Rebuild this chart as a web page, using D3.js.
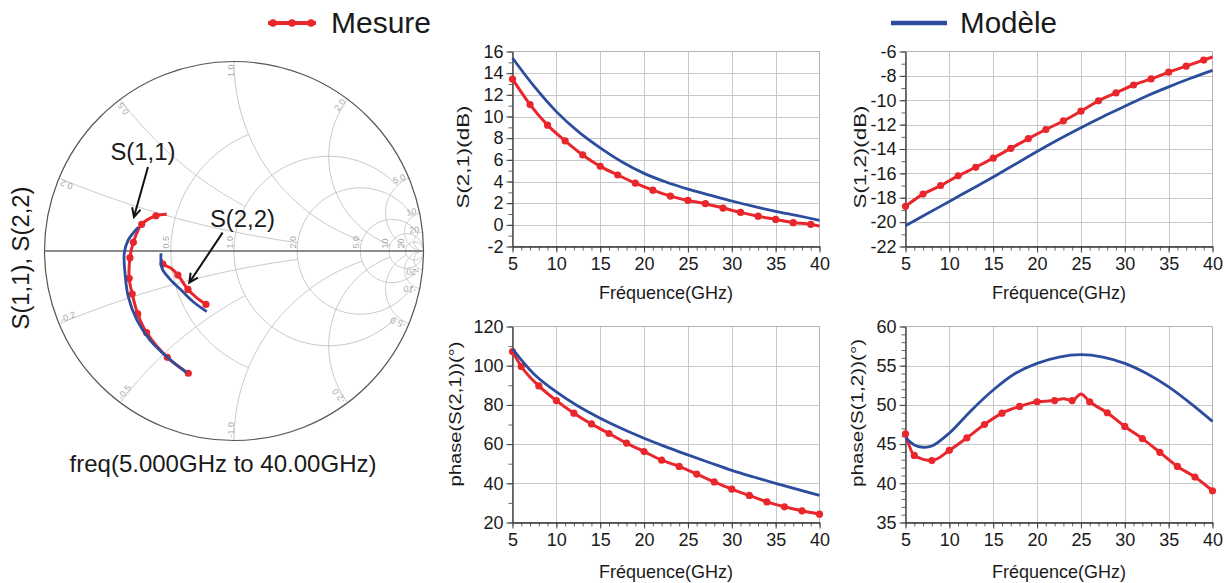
<!DOCTYPE html>
<html><head><meta charset="utf-8">
<script src="https://cdn.jsdelivr.net/npm/d3@7"></script>
<style>
body{margin:0;background:#fff}
svg{display:block}
text{font-family:"Liberation Sans",Arial,Helvetica,sans-serif}
</style>
</head><body>
<svg id="c" width="1232" height="583"></svg>
<script>
// ---------------- DATA ----------------
const xTickVals = [5,10,15,20,25,30,35,40];
const xTickLabels = ["5","10","15","20","25","30","35","40"];

const freqMeasOdd = [5,7,9,11,13,15,17,19,21,23,25,27,29,31,33,35,37,39,40];
const freqMeasEven = [5,6,8,10,12,14,16,18,20,22,24,26,28,30,32,34,36,38,40];
const freqModel = [5,7.5,10,12.5,15,17.5,20,22.5,25,27.5,30,32.5,35,37.5,40];

const s21dBMeas  = [13.45,11.1,9.2,7.75,6.45,5.4,4.6,3.85,3.2,2.65,2.25,1.95,1.55,1.15,0.8,0.5,0.2,0.05,-0.12];
const s21dBModel = [15.4,12.75,10.45,8.6,7.1,5.8,4.75,3.95,3.3,2.75,2.2,1.7,1.25,0.85,0.42];

const s12dBMeas  = [-18.7,-17.7,-17.0,-16.2,-15.5,-14.75,-13.95,-13.15,-12.4,-11.7,-10.9,-10.05,-9.4,-8.75,-8.25,-7.7,-7.2,-6.7,-6.45];
const s12dBModel = [-20.3,-19.3,-18.3,-17.3,-16.3,-15.25,-14.2,-13.2,-12.25,-11.35,-10.5,-9.65,-8.9,-8.2,-7.55];

const phS21Meas  = [107.2,99.6,89.7,82.2,75.8,70.3,65.4,60.5,56.2,51.8,48.6,44.7,40.7,37.0,33.8,30.5,28.0,25.95,24.25];
const phS21Model = [108.6,95.5,86.6,79.3,73.2,67.8,63.0,58.6,54.5,50.5,46.6,43.2,40.0,36.9,33.8];

const freqPhS12Meas = [5,6,8,10,12,14,16,18,20,22,23,24,25,26,28,30,32,34,36,38,40];
const phS12Meas  = [46.3,43.55,42.9,44.2,45.8,47.5,48.95,49.8,50.4,50.55,50.8,50.55,51.4,50.4,49.0,47.25,45.7,43.95,42.15,40.8,39.05];
const freqPhS12Model = [5,6,7,8,10,12.5,15,17.5,20,22.5,25,27.5,30,32.5,35,37.5,40];
const phS12Model = [45.8,44.9,44.6,44.75,46.4,49.3,51.9,54.0,55.3,56.1,56.4,56.1,55.3,54.0,52.3,50.2,47.9];

const yTicksA = [-2,0,2,4,6,8,10,12,14,16];
const yTicksB = [-22,-20,-18,-16,-14,-12,-10,-8,-6];
const yTicksC = [20,40,60,80,100,120];
const yTicksD = [35,40,45,50,55,60];

// Smith chart traces (reflection coefficient, [re, im])
const s11Meas  = [[-0.355,0.194],[-0.412,0.186],[-0.487,0.141],[-0.531,0.046],[-0.549,-0.035],[-0.553,-0.144],[-0.537,-0.227],[-0.508,-0.332],[-0.461,-0.431],[-0.352,-0.561],[-0.241,-0.645]];
const s11MarkIdx = [1,2,3,4,5,6,7,8,9,10];
const s11Model = [[-0.505,0.125],[-0.558,0.058],[-0.579,-0.012],[-0.575,-0.118],[-0.558,-0.241],[-0.513,-0.364],[-0.443,-0.470],[-0.355,-0.558],[-0.250,-0.642]];
const s22Meas  = [[-0.383,-0.045],[-0.375,-0.069],[-0.330,-0.092],[-0.296,-0.127],[-0.243,-0.203],[-0.201,-0.243],[-0.148,-0.282]];
const s22MarkIdx = [1,3,4,6];
const s22Model = [[-0.385,-0.012],[-0.380,-0.091],[-0.338,-0.148],[-0.276,-0.209],[-0.215,-0.268],[-0.144,-0.320]];

// Smith grid values
const smithR = [0.5,1,2,5,10,20];
const smithRLabels = ["0.5","1.0","2.0","5.0","10","20"];
const smithX = [0.2,0.5,1,2,5,10,20];
const smithXLabels = ["0.2","0.5","1.0","2.0","5.0","10","20"];

// ---------------- STYLE ----------------
const RED = "#e8262c", BLUE = "#2c4d9e";
const svg = d3.select("#c");

function txt(g, s, x, y, size, opts = {}) {
  const t = g.append("text").attr("x", x).attr("y", y).attr("font-size", size)
    .attr("fill", opts.fill || "#1a1a1a").attr("text-anchor", opts.anchor || "start").text(s);
  if (opts.len) t.attr("textLength", opts.len).attr("lengthAdjust", "spacingAndGlyphs");
  if (opts.rot) t.attr("transform", `rotate(${opts.rot},${x},${y})`);
  return t;
}

// ---------------- PANELS ----------------
function drawPanel(p) {
  const x = d3.scaleLinear().domain([5, 40]).range([p.x0, p.x1]);
  const y = d3.scaleLinear().domain([p.yTicks[0], p.yTicks[p.yTicks.length - 1]]).range([p.y1, p.y0]);
  const g = svg.append("g");
  const grid = g.append("g").attr("stroke", "#c8c8c8").attr("stroke-width", 1);
  grid.selectAll("line.v").data(xTickVals.slice(1, -1)).join("line").attr("class", "v")
    .attr("x1", d => Math.round(x(d)) + 0.5).attr("x2", d => Math.round(x(d)) + 0.5).attr("y1", p.y0).attr("y2", p.y1);
  grid.selectAll("line.h").data(p.yTicks.slice(1, -1)).join("line").attr("class", "h")
    .attr("y1", d => Math.round(y(d)) + 0.5).attr("y2", d => Math.round(y(d)) + 0.5).attr("x1", p.x0).attr("x2", p.x1);
  g.append("rect").attr("x", p.x0).attr("y", p.y0).attr("width", p.x1 - p.x0).attr("height", p.y1 - p.y0)
    .attr("fill", "none").attr("stroke", "#b4b4b4").attr("stroke-width", 1);

  // minor ticks
  const minorY = d3.range(p.yTicks[0], p.yTicks[p.yTicks.length - 1] + 1e-9, p.minor);
  g.append("g").attr("transform", `translate(0,${p.y1})`)
    .call(d3.axisBottom(x).tickValues(d3.range(5, 41, 1)).tickSize(4).tickSizeOuter(0).tickFormat(""))
    .call(a => a.select(".domain").remove()).attr("color", "#666");
  g.append("g").attr("transform", `translate(${p.x0},0)`)
    .call(d3.axisLeft(y).tickValues(minorY).tickSize(4).tickSizeOuter(0).tickFormat(""))
    .call(a => a.select(".domain").remove()).attr("color", "#666");

  // major
  const ax = g.append("g").attr("transform", `translate(0,${p.y1})`)
    .call(d3.axisBottom(x).tickValues(xTickVals).tickFormat((d, i) => xTickLabels[i]).tickSize(6).tickSizeOuter(0).tickPadding(5))
    .attr("font-size", 18).attr("font-family", null).attr("color", "#444");
  ax.selectAll("text").attr("fill", "#1a1a1a");
  const ay = g.append("g").attr("transform", `translate(${p.x0},0)`)
    .call(d3.axisLeft(y).tickValues(p.yTicks).tickFormat(d => String(d)).tickSize(6).tickSizeOuter(0).tickPadding(3))
    .attr("font-size", 18).attr("font-family", null).attr("color", "#444");
  ay.selectAll("text").attr("fill", "#1a1a1a");
  ax.select(".domain").attr("stroke", "#333").attr("stroke-width", 1.3);
  ay.select(".domain").attr("stroke", "#333").attr("stroke-width", 1.3);

  // titles
  txt(g, "Fréquence(GHz)", (p.x0 + p.x1) / 2, p.xtY, 19, { anchor: "middle", len: 134 });
  txt(g, p.title, p.ytX, p.ytY, 16.5, { anchor: "middle", len: p.ytLen, rot: -90 });

  // traces
  const line = (fs, vs, c) => d3.line().x((d, i) => x(fs[i])).y(d => y(d)).curve(c)(vs);
  g.append("path").attr("d", line(p.measF, p.measV, d3.curveMonotoneX)).attr("fill", "none").attr("stroke", RED).attr("stroke-width", 3);
  g.selectAll("circle.m").data(p.measV.map((v, i) => [p.measF[i], v]).filter(d => p.mark(d[0])))
    .join("circle").attr("class", "m").attr("cx", d => x(d[0])).attr("cy", d => y(d[1])).attr("r", 3.6).attr("fill", RED);
  g.append("path").attr("d", line(p.modF, p.modV, d3.curveCatmullRom)).attr("fill", "none").attr("stroke", BLUE).attr("stroke-width", 2.8);
}

const oddMark = f => f % 2 === 1;
const evenMark = f => f === 5 || f % 2 === 0;

drawPanel({ x0: 512.5, x1: 819.5, y0: 51.5, y1: 246.5, yTicks: yTicksA, minor: 1, title: "S(2,1)(dB)",
  ytX: 469, ytY: 157, ytLen: 103, xtY: 299,
  measF: freqMeasOdd, measV: s21dBMeas, modF: freqModel, modV: s21dBModel, mark: oddMark });
drawPanel({ x0: 905.5, x1: 1212.5, y0: 51.5, y1: 246.5, yTicks: yTicksB, minor: 1, title: "S(1,2)(dB)",
  ytX: 865.5, ytY: 157, ytLen: 103, xtY: 299,
  measF: freqMeasOdd, measV: s12dBMeas, modF: freqModel, modV: s12dBModel, mark: oddMark });
drawPanel({ x0: 512.5, x1: 819.5, y0: 326.5, y1: 522.5, yTicks: yTicksC, minor: 10, title: "phase(S(2,1))(°)",
  ytX: 460.5, ytY: 414, ytLen: 145, xtY: 578,
  measF: freqMeasEven, measV: phS21Meas, modF: freqModel, modV: phS21Model, mark: evenMark });
drawPanel({ x0: 905.5, x1: 1212.5, y0: 326.5, y1: 522.5, yTicks: yTicksD, minor: 1, title: "phase(S(1,2))(°)",
  ytX: 862.5, ytY: 413, ytLen: 148, xtY: 578,
  measF: freqPhS12Meas, measV: phS12Meas, modF: freqPhS12Model, modV: phS12Model, mark: evenMark });

// ---------------- SMITH CHART ----------------
const cx = 234, cy = 251, R = 189.5;
const sx = d3.scaleLinear().domain([-1, 1]).range([cx - R, cx + R]);
const sy = d3.scaleLinear().domain([-1, 1]).range([cy + R, cy - R]);
const gam = (r, xx) => { const den = (r + 1) * (r + 1) + xx * xx; return [(r * r + xx * xx - 1) / den, 2 * xx / den]; };
const sm = svg.append("g");
const smLine = d3.line().x(d => sx(d[0])).y(d => sy(d[1]));

// resistance circles: r with reactance limit; reactance arcs: x with resistance limit
const rLimit = { 0.5: 1, 1: 5, 2: 10, 5: 20, 10: 60, 20: 120 };
const xLimit = { 0.2: 2, 0.5: 1, 1: 5, 2: 10, 5: 20, 10: 60, 20: 120 };
const gridG = sm.append("g").attr("fill", "none").attr("stroke", "#c2c2c2").attr("stroke-width", 0.9);
smithR.forEach(r => {
  const c = r / (r + 1), rho = 1 / (r + 1);
  const p = gam(r, rLimit[r]);
  const a1 = Math.atan2(p[1], p[0] - c);
  const pts = d3.range(0, 1.0001, 1 / 120).map(t => {
    const a = a1 + t * (2 * Math.PI - 2 * a1);
    return [c + rho * Math.cos(a), rho * Math.sin(a)];
  });
  gridG.append("path").attr("d", smLine(pts));
});
smithX.forEach(v => {
  [v, -v].forEach(xx => {
    const c = [1, 1 / xx], rho = 1 / Math.abs(xx);
    const p0 = gam(0, xx), p1 = gam(xLimit[v], xx);
    const a0 = Math.atan2(p0[1] - c[1], p0[0] - c[0]);
    let d = Math.atan2(p1[1] - c[1], p1[0] - c[0]) - a0;
    while (d > Math.PI) d -= 2 * Math.PI;
    while (d < -Math.PI) d += 2 * Math.PI;
    const pts = d3.range(0, 1.0001, 1 / 100).map(t => [c[0] + rho * Math.cos(a0 + t * d), c[1] + rho * Math.sin(a0 + t * d)]);
    gridG.append("path").attr("d", smLine(pts));
  });
});
sm.append("circle").attr("cx", sx(0)).attr("cy", sy(0)).attr("r", R).attr("fill", "none").attr("stroke", "#555").attr("stroke-width", 1.2);
sm.append("line").attr("x1", sx(-1)).attr("x2", sx(1)).attr("y1", sy(0)).attr("y2", sy(0)).attr("stroke", "#666").attr("stroke-width", 1.3);

// grid labels
const lblG = sm.append("g");
smithR.forEach((r, i) => {
  const px = sx(gam(r, 0)[0]) - 1.5, py = sy(0) - 2.5;
  txt(lblG, smithRLabels[i], px, py, 9, { fill: "#a8a8a8", rot: -90 });
});
smithX.forEach((v, i) => {
  const p = gam(0, v);
  const k = 1 - 3 / R;
  const px = sx(p[0] * k), py = sy(p[1] * k);
  const th = Math.atan2(-p[1], p[0]) * 180 / Math.PI;
  txt(lblG, smithXLabels[i], px, py, 9, { fill: "#a8a8a8", anchor: "end", rot: th });
  const q = gam(0, -v);
  const qx = sx(q[0] * k), qy = sy(q[1] * k);
  const th2 = Math.atan2(q[1], -q[0]) * 180 / Math.PI;
  txt(lblG, "-" + smithXLabels[i], qx, qy, 9, { fill: "#a8a8a8", anchor: "start", rot: th2 });
});

// traces
function trace(data, color, w) {
  sm.append("path").attr("d", d3.line().x(d => sx(d[0])).y(d => sy(d[1])).curve(d3.curveCatmullRom)(data))
    .attr("fill", "none").attr("stroke", color).attr("stroke-width", w).attr("stroke-linejoin", "round");
}
function marks(data, idx) {
  sm.selectAll(null).data(idx.map(i => data[i])).join("circle")
    .attr("cx", d => sx(d[0])).attr("cy", d => sy(d[1])).attr("r", 3.6).attr("fill", RED);
}
trace(s11Meas, RED, 3); marks(s11Meas, s11MarkIdx);
trace(s22Meas, RED, 3); marks(s22Meas, s22MarkIdx);
trace(s11Model, BLUE, 2.8);
trace(s22Model, BLUE, 2.8);

// annotations
function arrow(t, h) {
  const x1 = sx(t[0]), y1 = sy(t[1]), x2 = sx(h[0]), y2 = sy(h[1]);
  const ang = Math.atan2(y2 - y1, x2 - x1), L = 10, s = 0.45;
  sm.append("line").attr("x1", x1).attr("y1", y1).attr("x2", x2).attr("y2", y2).attr("stroke", "#111").attr("stroke-width", 2);
  sm.append("path").attr("d", `M${x2 - L * Math.cos(ang - s)},${y2 - L * Math.sin(ang - s)}L${x2},${y2}L${x2 - L * Math.cos(ang + s)},${y2 - L * Math.sin(ang + s)}`)
    .attr("fill", "none").attr("stroke", "#111").attr("stroke-width", 2);
}
arrow([-0.454, 0.443], [-0.528, 0.179]);
arrow([-0.060, 0.097], [-0.236, -0.167]);
txt(sm, "S(1,1)", sx(-0.652), sy(0.480), 23, { len: 65 });
txt(sm, "S(2,2)", sx(-0.127), sy(0.129), 23, { len: 65 });
txt(svg, "S(1,1), S(2,2)", 28.5, 258, 23, { anchor: "middle", len: 143, rot: -90 });
txt(svg, "freq(5.000GHz to 40.00GHz)", 223, 472, 24, { anchor: "middle", len: 307 });

// ---------------- LEGEND ----------------
const lg = svg.append("g");
lg.append("line").attr("x1", 268).attr("x2", 316).attr("y1", 23).attr("y2", 23).attr("stroke", RED).attr("stroke-width", 4);
lg.selectAll("circle").data([273, 292, 311]).join("circle").attr("cx", d => d).attr("cy", 23).attr("r", 3.8).attr("fill", RED);
txt(lg, "Mesure", 331, 33, 30, { len: 100 });
lg.append("line").attr("x1", 891).attr("x2", 947).attr("y1", 23).attr("y2", 23).attr("stroke", BLUE).attr("stroke-width", 4.5);
txt(lg, "Modèle", 960, 33, 30, { len: 97 });
</script>
</body></html>
